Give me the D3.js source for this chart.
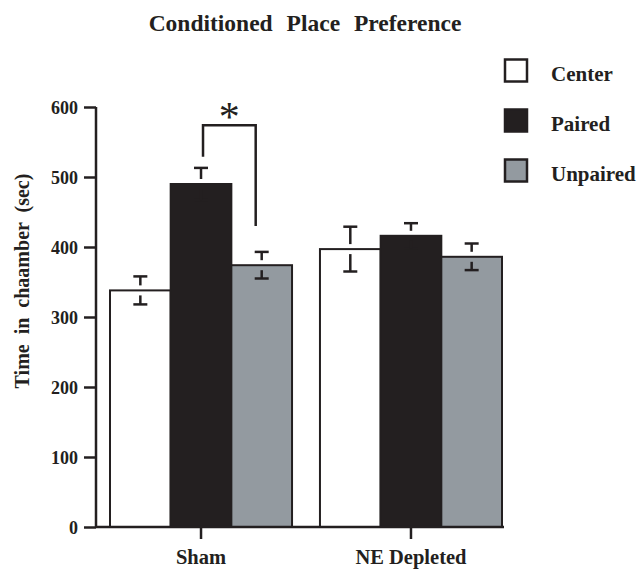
<!DOCTYPE html>
<html>
<head>
<meta charset="utf-8">
<script src="https://cdn.jsdelivr.net/npm/d3@7"></script>
<style>
  body { margin: 0; background: #fff; }
  text { font-family: "Liberation Serif", "Times New Roman", serif; font-weight: bold; fill: #231f20; }
</style>
</head>
<body>
<svg id="chart" width="643" height="569"></svg>
<script>
// values
const groups = ["Sham", "NE Depleted"];
const conditions = ["Center", "Paired", "Unpaired"];
const means = [
  [338, 490, 374],
  [397, 416, 386]
];
const sems = [
  [20, 23, 19],
  [32, 18, 19]
];
const yTicks = [0, 100, 200, 300, 400, 500, 600];

const colors = { Center: "#ffffff", Paired: "#231f20", Unpaired: "#939aa0" };
const ink = "#231f20";

const svg = d3.select("#chart");

const margin = { left: 96, top: 107, bottom: 527 };

const y = d3.scaleLinear().domain([0, 600]).range([margin.bottom, margin.top]);
const x0 = d3.scaleBand().domain(groups).range([110, 502]).paddingInner(0.133).paddingOuter(0);
const x1 = d3.scaleBand().domain(conditions).range([0, x0.bandwidth()]);

// title
svg.append("text")
  .attr("x", 305).attr("y", 31)
  .attr("text-anchor", "middle")
  .style("font-size", "23.5px")
  .style("word-spacing", "8px")
  .text("Conditioned Place Preference");

// bars
const rows = [];
groups.forEach((g, i) => conditions.forEach((c, j) => {
  rows.push({ group: g, cond: c, mean: means[i][j], sem: sems[i][j] });
}));

const chart = svg.append("g");

chart.selectAll(".bar")
  .data(rows)
  .join("rect")
  .attr("class", "bar")
  .attr("x", d => x0(d.group) + x1(d.cond))
  .attr("y", d => y(d.mean))
  .attr("width", x1.bandwidth())
  .attr("height", d => y(0) - y(d.mean))
  .attr("fill", d => colors[d.cond])
  .attr("stroke", ink)
  .attr("stroke-width", 2);

// error bars: cap plus short stem, stopping short of the mean
const capW = 14, gap = 5;
const eb = chart.selectAll(".err")
  .data(rows)
  .join("g")
  .attr("class", "err")
  .attr("transform", d => `translate(${x0(d.group) + x1(d.cond) + x1.bandwidth() / 2},0)`);

eb.append("line")
  .attr("x1", -capW / 2).attr("x2", capW / 2)
  .attr("y1", d => y(d.mean + d.sem)).attr("y2", d => y(d.mean + d.sem))
  .attr("stroke", ink).attr("stroke-width", 2.5);
eb.append("line")
  .attr("x1", 0).attr("x2", 0)
  .attr("y1", d => y(d.mean + d.sem)).attr("y2", d => y(d.mean) - gap)
  .attr("stroke", ink).attr("stroke-width", 2.5);
eb.append("line")
  .attr("x1", -capW / 2).attr("x2", capW / 2)
  .attr("y1", d => y(d.mean - d.sem)).attr("y2", d => y(d.mean - d.sem))
  .attr("stroke", ink).attr("stroke-width", 2.5);
eb.append("line")
  .attr("x1", 0).attr("x2", 0)
  .attr("y1", d => y(d.mean - d.sem)).attr("y2", d => y(d.mean) + gap)
  .attr("stroke", ink).attr("stroke-width", 2.5);

// y axis
const yAxis = svg.append("g")
  .attr("transform", `translate(${margin.left},0)`)
  .call(d3.axisLeft(y).tickValues(yTicks).tickSize(12).tickPadding(6));
yAxis.select(".domain").attr("stroke", ink).attr("stroke-width", 2.5).attr("d", `M0,${y(600)}V${y(0)}`);
yAxis.selectAll(".tick line").attr("stroke", ink).attr("stroke-width", 2.5);
yAxis.selectAll(".tick text").style("font-size", "18px").attr("fill", ink).attr("dy", "0.34em");

// x axis
const xAxis = svg.append("g")
  .attr("transform", `translate(0,${y(0)})`)
  .call(d3.axisBottom(x0).tickSize(12));
xAxis.select(".domain").attr("stroke", ink).attr("stroke-width", 2.5).attr("d", `M${margin.left},0H504`);
xAxis.selectAll(".tick line").attr("stroke", ink).attr("stroke-width", 2.5);
xAxis.selectAll(".tick text").style("font-size", "20.5px").attr("fill", ink)
  .attr("y", 37).attr("dy", 0);

// y label
svg.append("text")
  .attr("transform", `translate(29,${281}) rotate(-90)`)
  .attr("text-anchor", "middle")
  .style("font-size", "20px")
  .style("word-spacing", "5px")
  .text("Time in chaamber (sec)");

// significance bracket Sham Paired vs Unpaired
const shamX = c => x0("Sham") + x1(c) + x1.bandwidth() / 2;
const bx1 = shamX("Paired") + 2, bx2 = shamX("Unpaired") - 6;
svg.append("path")
  .attr("d", `M${bx1},${y(529)}V${y(574)}H${bx2}V${y(430)}`)
  .attr("fill", "none").attr("stroke", ink).attr("stroke-width", 2.5);
svg.append("text")
  .attr("x", (bx1 + bx2) / 2).attr("y", 131)
  .attr("text-anchor", "middle")
  .style("font-size", "42px").style("font-weight", "normal")
  .text("*");

// legend
const legend = svg.append("g").attr("transform", "translate(505,0)");
const ly = d3.scalePoint().domain(conditions).range([70.5, 170.5]);
legend.selectAll("rect")
  .data(conditions)
  .join("rect")
  .attr("x", 0).attr("y", d => ly(d) - 11)
  .attr("width", 22).attr("height", 22)
  .attr("fill", d => colors[d])
  .attr("stroke", ink).attr("stroke-width", 2.5);
legend.selectAll("text")
  .data(conditions)
  .join("text")
  .attr("x", 46).attr("y", d => ly(d) + 10)
  .style("font-size", "21px")
  .text(d => d);
</script>
</body>
</html>
